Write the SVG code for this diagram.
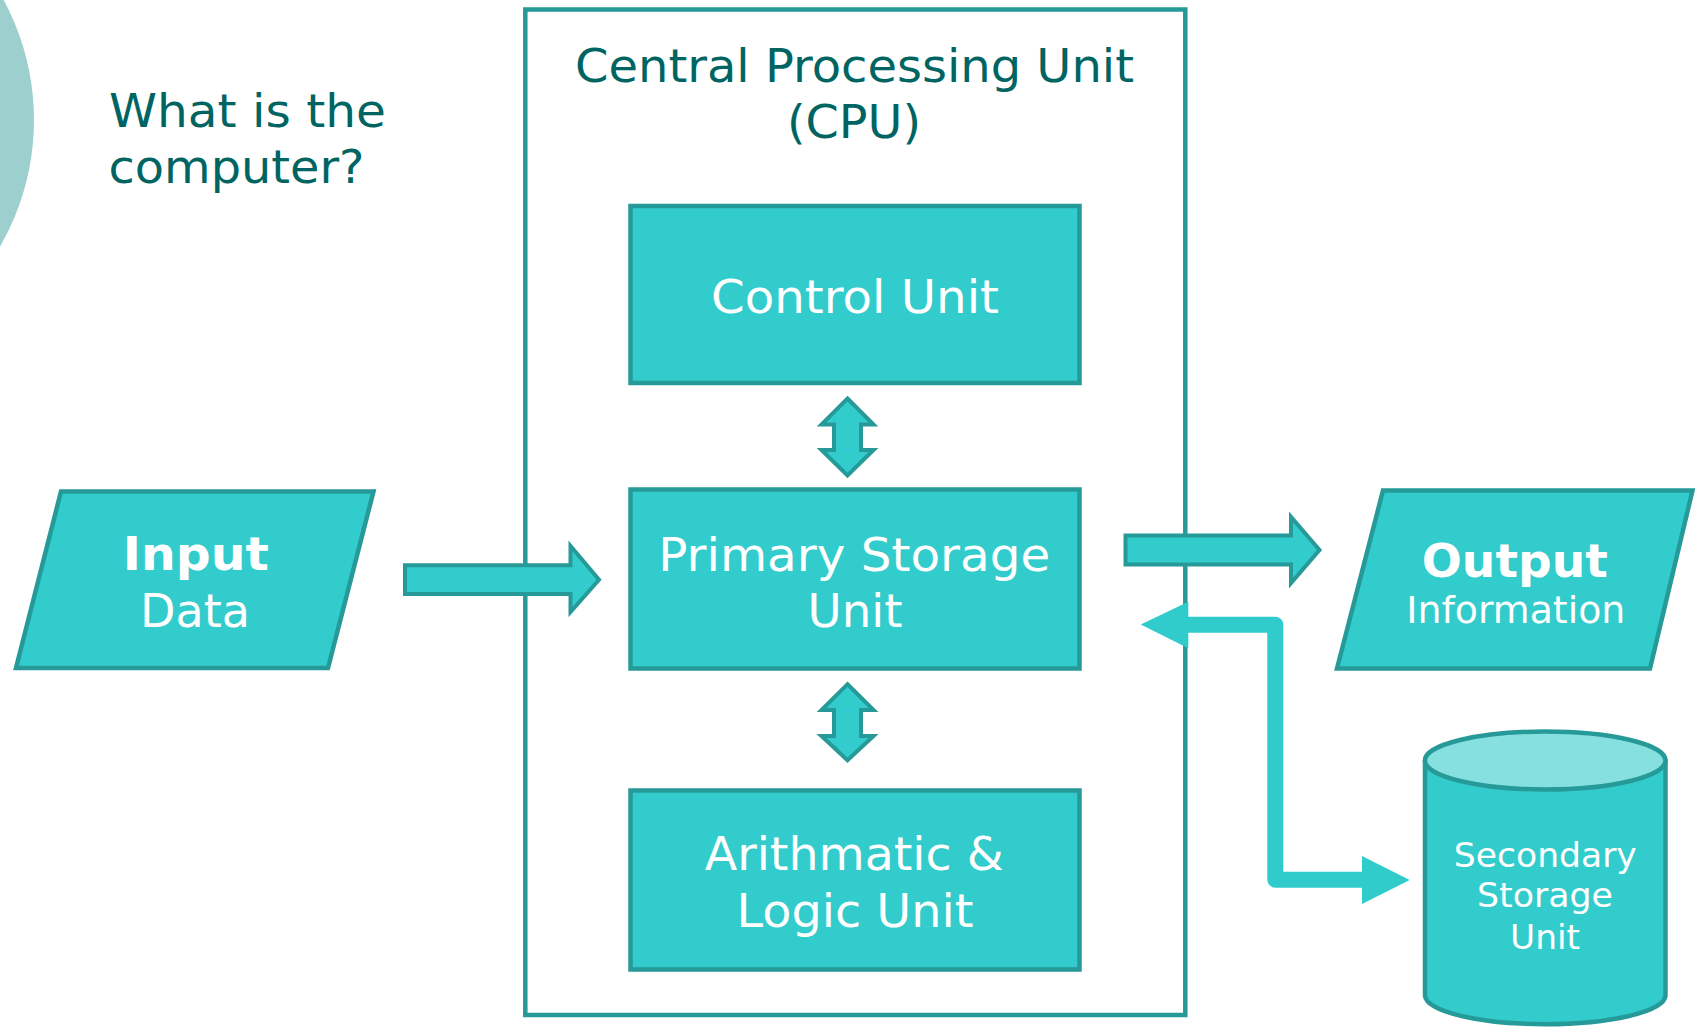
<svg xmlns="http://www.w3.org/2000/svg" width="1695" height="1027" viewBox="0 0 1695 1027">
  <style>
    .box { fill: #33CCCC; stroke: #269A98; stroke-width: 4.5; stroke-linejoin: miter; }
    .frame { fill: #FFFFFF; stroke: #269A98; stroke-width: 4.5; }
    .lbl { font-family: "DejaVu Sans", "Liberation Sans", sans-serif; fill: #FFFFFF; text-anchor: middle; }
    .head { font-family: "DejaVu Sans", "Liberation Sans", sans-serif; fill: #006562; }
    .bold { font-weight: bold; }
    .blockarrow { fill: #33CCCC; stroke: #269A98; stroke-width: 4; stroke-linejoin: miter; }
    .flow { fill: none; stroke: #30CCCC; stroke-width: 16; stroke-linejoin: round; }
    .flowhead { fill: #30CCCC; }
  </style>

  <!-- decorative circle at the left edge -->
  <circle id="deco-circle" cx="-219" cy="120" r="253" fill="#9DCFCF"/>

  <!-- heading -->
  <g id="heading">
    <text class="head" x="109" y="126.7" font-size="46" textLength="277" lengthAdjust="spacingAndGlyphs">What is the</text>
    <text class="head" x="108.5" y="183.3" font-size="46" textLength="256" lengthAdjust="spacingAndGlyphs">computer?</text>
  </g>

  <!-- CPU enclosure -->
  <g id="cpu">
    <rect class="frame" x="525.3" y="9.5" width="660" height="1005.5"/>
    <text class="head" x="854.5" y="81.7" font-size="46" text-anchor="middle" textLength="559" lengthAdjust="spacingAndGlyphs">Central Processing Unit</text>
    <text class="head" x="854" y="138.3" font-size="46" text-anchor="middle" textLength="134" lengthAdjust="spacingAndGlyphs">(CPU)</text>
  </g>

  <g id="control-unit">
    <rect class="box" x="630.5" y="206" width="449" height="177"/>
    <text class="lbl" x="855" y="312.7" font-size="46" textLength="288" lengthAdjust="spacingAndGlyphs">Control Unit</text>
  </g>

  <g id="primary-storage">
    <rect class="box" x="630.5" y="489.5" width="449" height="179"/>
    <text class="lbl" x="854.2" y="570.7" font-size="46" textLength="392" lengthAdjust="spacingAndGlyphs">Primary Storage</text>
    <text class="lbl" x="855" y="627.3" font-size="46" textLength="95" lengthAdjust="spacingAndGlyphs">Unit</text>
  </g>

  <g id="alu">
    <rect class="box" x="630.5" y="790.5" width="449" height="179"/>
    <text class="lbl" x="854.2" y="870" font-size="46" textLength="299" lengthAdjust="spacingAndGlyphs">Arithmatic &amp;</text>
    <text class="lbl" x="855" y="927.3" font-size="46" textLength="237" lengthAdjust="spacingAndGlyphs">Logic Unit</text>
  </g>

  <g id="input">
    <polygon class="box" points="61,491.5 373.5,491.5 328,668 16,668"/>
    <text class="lbl bold" x="195.8" y="570" font-size="46" textLength="146" lengthAdjust="spacingAndGlyphs">Input</text>
    <text class="lbl" x="195" y="627.3" font-size="46" textLength="110" lengthAdjust="spacingAndGlyphs">Data</text>
  </g>

  <g id="output">
    <polygon class="box" points="1383,490.5 1692.5,490.5 1650,668.5 1337,668.5"/>
    <text class="lbl bold" x="1514.8" y="576.7" font-size="46" textLength="186" lengthAdjust="spacingAndGlyphs">Output</text>
    <text class="lbl" x="1515.8" y="623.3" font-size="36.6" textLength="219" lengthAdjust="spacingAndGlyphs">Information</text>
  </g>

  <g id="secondary-storage">
    <path class="box" d="M1425,760.5 A120.3,29 0 0 1 1665.5,760.5 V996 A120.3,29 0 0 1 1425,996 Z"/>
    <ellipse cx="1545.2" cy="760.5" rx="120.3" ry="29" fill="#86E0E0" stroke="#269A98" stroke-width="4.5"/>
    <text class="lbl" x="1545.3" y="866.7" font-size="33" textLength="183" lengthAdjust="spacingAndGlyphs">Secondary</text>
    <text class="lbl" x="1545" y="907.3" font-size="33" textLength="136" lengthAdjust="spacingAndGlyphs">Storage</text>
    <text class="lbl" x="1545" y="949.3" font-size="33" textLength="70" lengthAdjust="spacingAndGlyphs">Unit</text>
  </g>

  <!-- connectors -->
  <g id="connectors">
    <!-- input data into primary storage -->
    <path class="blockarrow" d="M405,565.3 H570.5 V546 L599,579.8 L570.5,612 V594 H405 Z"/>
    <!-- primary storage out to output -->
    <path class="blockarrow" d="M1125.5,535.5 H1291 V517 L1319.5,550 L1291,583 V564.5 H1125.5 Z"/>
    <!-- control unit <-> primary storage -->
    <path class="blockarrow" d="M847.5,398.5 L873.5,424.5 H861 V450 H873.5 L847.5,475.5 L821.5,450 H834 V424.5 H821.5 Z"/>
    <!-- primary storage <-> ALU -->
    <path class="blockarrow" d="M847.5,684.2 L873.5,710 H861 V736 H873.5 L847.5,760.2 L821.5,736 H834 V710 H821.5 Z"/>
    <!-- primary storage <-> secondary storage -->
    <path class="flow" d="M1186,624.7 H1275.3 V879.7 H1364"/>
    <polygon class="flowhead" points="1140.7,624.5 1188.3,601.7 1188.3,648.3"/>
    <polygon class="flowhead" points="1362,856 1409.7,880 1362,904"/>
  </g>
</svg>
